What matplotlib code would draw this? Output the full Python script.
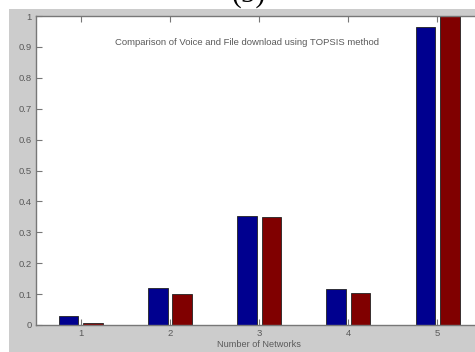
import numpy as np
import matplotlib
matplotlib.use("Agg")
import matplotlib.pyplot as plt
from matplotlib.patches import Rectangle

# Data
networks = [1, 2, 3, 4, 5]
voice = [0.03, 0.12, 0.352, 0.115, 0.965]
file_download = [0.008, 0.10, 0.35, 0.105, 1.0]
yticks = [0, 0.1, 0.2, 0.3, 0.4, 0.5, 0.6, 0.7, 0.8, 0.9, 1]
ytick_labels = ["0", "0.1", "0.2", "0.3", "0.4", "0.5", "0.6", "0.7", "0.8", "0.9", "1"]

W, H = 475, 352
plt.rcParams["font.family"] = ["Liberation Sans", "DejaVu Sans"]

fig = plt.figure(figsize=(W / 100, H / 100), dpi=100, facecolor="white")

# gray matlab figure background
fig.patches.append(Rectangle((9 / W, 0), 1, 1 - 9 / H, transform=fig.transFigure,
                             facecolor="#cccccc", edgecolor="none", zorder=-10))
# panel label, cut off by the top edge as in the source
fig.text(249 / W, 1 - 2 / H, "(5)", family="Liberation Serif", fontsize=21,
         ha="center", va="baseline", color="black", zorder=5)

ax = fig.add_axes([36 / W, 27 / H, (482 - 36) / W, (325 - 16) / H])
ax.set_zorder(1)
ax.set_facecolor("white")

x = np.array(networks)
ax.bar(x - 0.135, voice, width=0.22, color="#00008f", edgecolor="#222222", linewidth=0.6)
ax.bar(x + 0.14, file_download, width=0.22, color="#800000", edgecolor="#222222", linewidth=0.6)

ax.set_xlim(0.5, 5.5)
ax.set_ylim(0, 1)
ax.set_xticks(networks)
ax.set_yticks(yticks)
ax.set_yticklabels(ytick_labels)
ax.tick_params(direction="in", length=4, width=0.8, color="#777777",
               labelsize=6.8, labelcolor="#5a5a5a", top=True, right=True, pad=3)
for s in ax.spines.values():
    s.set_color("#777777")
    s.set_linewidth(1.0)

ax.text(0.473, 0.913, "Comparison of Voice and File download using TOPSIS method",
        transform=ax.transAxes, ha="center", va="center", fontsize=6.8, color="#5a5a5a")
ax.set_xlabel("Number of Networks", fontsize=6.6, color="#5a5a5a", labelpad=1)

fig.savefig("out.png", dpi=100, facecolor="white")
